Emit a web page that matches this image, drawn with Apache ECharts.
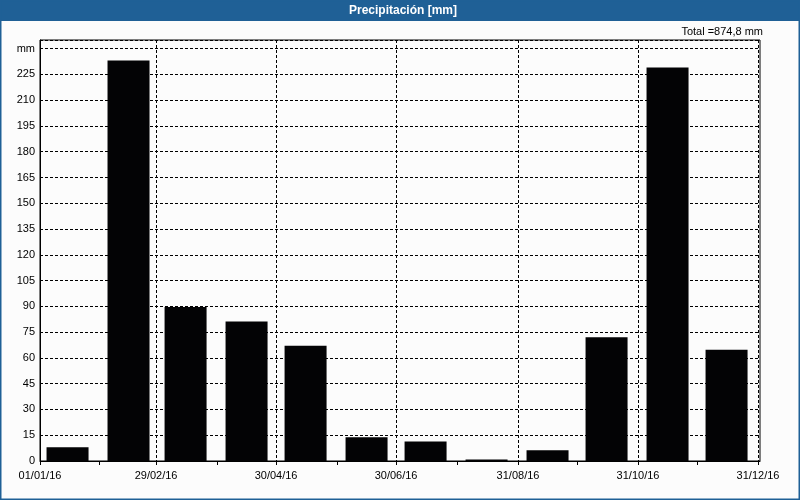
<!DOCTYPE html>
<html>
<head>
<meta charset="utf-8">
<script src="https://cdn.jsdelivr.net/npm/echarts@6/dist/echarts.min.js"></script>
<style>
html,body{margin:0;padding:0;background:#fcfcfc;}
#chart{width:800px;height:500px;}
</style>
</head>
<body>
<div id="chart"></div>
<script>
// Data
var months = ['2016-01-15','2016-02-15','2016-03-15','2016-04-15','2016-05-15','2016-06-15',
              '2016-07-15','2016-08-15','2016-09-15','2016-10-15','2016-11-15','2016-12-15'];
var precip = [8.0, 233.0, 89.6, 81.2, 67.1, 13.8, 11.4, 0.9, 6.2, 72.0, 229.0, 64.8];
var monthEnds = ['2016-01-31','2016-03-31','2016-05-31','2016-07-31','2016-09-30','2016-11-30'];
var labelDates = ['2016-01-01','2016-02-29','2016-04-30','2016-06-30','2016-08-31','2016-10-31','2016-12-31'];
var labelTexts = ['01/01/16','29/02/16','30/04/16','30/06/16','31/08/16','31/10/16','31/12/16'];
var yTicksLabelTop = 'mm';
var titleText = 'Precipitación [mm]';
var totalText = 'Total =874,8 mm';

function ts(s){ var p = s.split('-'); return Date.UTC(+p[0], +p[1]-1, +p[2]); }
var t0 = ts('2016-01-01');
function day(s){ return Math.round((ts(s) - t0) / 86400000); }
var xMin = day('2016-01-01'), xMax = day('2017-01-01');
var labelDays = labelDates.map(day);
var tickDays = monthEnds.map(day).concat(labelDays);

var chart = echarts.init(document.getElementById('chart'), null, {renderer:'canvas'});
var font = 'Liberation Sans';
var option = {
  backgroundColor: '#fcfcfc',
  animation: false,
  textStyle: {fontFamily: font},
  graphic: [
    {type:'rect', shape:{x:0,y:0,width:800,height:21}, style:{fill:'#1f6096'}, z:10},
    {type:'rect', shape:{x:0.5,y:0.5,width:799,height:499}, style:{fill:null, stroke:'#1f6096', lineWidth:2}, z:10},
    {type:'text', x:403, y:11, style:{text:titleText, fill:'#ffffff', font:'bold 12px "Liberation Sans"', align:'center', verticalAlign:'middle'}, z:11},
    {type:'text', x:763, y:32, style:{text:totalText, fill:'#000000', font:'11px "Liberation Sans"', align:'right', verticalAlign:'middle'}, z:11}
  ],
  grid: {left:40, right:40, top:40, bottom:39, show:true, borderColor:'#000', borderWidth:1, backgroundColor:'transparent'},
  xAxis: [
    {
      type:'value', min:xMin, max:xMax, position:'bottom',
      axisLine:{show:true, onZero:false, lineStyle:{color:'#000', width:1}},
      axisTick:{show:true, length:4, lineStyle:{color:'#000'}, customValues: tickDays},
      axisLabel:{show:false},
      splitLine:{show:false}
    },
    {
      type:'value', min:xMin, max:xMax, position:'bottom',
      axisLine:{show:false, onZero:false},
      axisTick:{show:false, customValues: labelDays},
      axisLabel:{show:true, customValues: labelDays, color:'#000', fontSize:11, fontFamily:font, margin:9,
        formatter:function(v){ var i = labelDays.indexOf(+v); return i>=0 ? labelTexts[i] : ''; }},
      splitLine:{show:true, lineStyle:{color:'#000', type:[3,2], width:1}}
    }
  ],
  yAxis: {
    type:'value', min:0, max:245, interval:15,
    axisLine:{show:true, lineStyle:{color:'#000'}},
    axisTick:{show:false},
    axisLabel:{color:'#000', fontSize:11, fontFamily:font, margin:5,
      formatter:function(v){ if (v===240) return yTicksLabelTop; if (v>240) return ''; return String(v); }},
    splitLine:{show:true, lineStyle:{color:'#000', type:[3,2], width:1}}
  },
  series: [{
    type:'bar', xAxisIndex:0,
    barWidth:42,
    itemStyle:{color:'#030305'},
    data: months.map(function(m,i){ return [day(m), precip[i]]; })
  }]
};
chart.setOption(option);
</script>
</body>
</html>
